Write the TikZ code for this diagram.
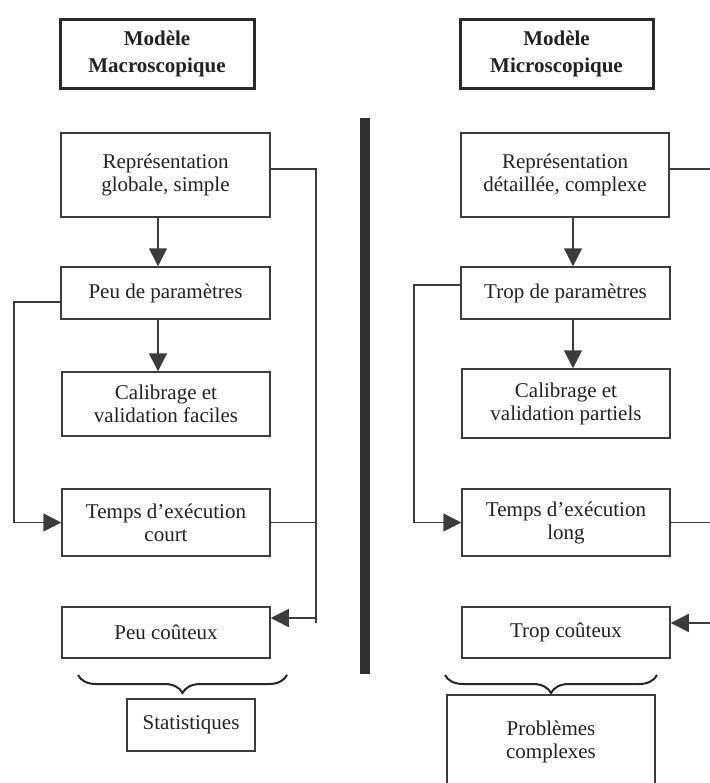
\documentclass[tikz,border=0pt]{standalone}
\usepackage{fontspec}
\setmainfont{Liberation Serif}
\usetikzlibrary{arrows.meta,decorations.pathreplacing}
\definecolor{ln}{HTML}{3C3C3C}
\definecolor{tx}{HTML}{222222}
\begin{document}
\begin{tikzpicture}[x=0.5pt,y=-0.5pt,
  box/.style={draw=ln, line width=0.75pt, inner sep=0pt, align=center, text=tx,
    font=\fontsize{10.5pt}{11.5pt}\selectfont},
  ttl/.style={draw=ln!70!black, line width=1.5pt, inner sep=0pt, align=center, text=tx,
    font=\bfseries\fontsize{10.5pt}{13.5pt}\selectfont},
  conn/.style={draw=ln, line width=0.75pt},
  arr/.style={conn, -{Triangle[length=9pt,width=9pt]}},
  brc/.style={draw=black!85, line width=1pt, decorate, decoration={brace, amplitude=9pt}}
]
\clip (0,0) rectangle (710,783);
\fill[white] (0,0) rectangle (710,783);

% ---------- left column ----------
\node[ttl, minimum width=97pt, minimum height=34.5pt] (tL) at (157,53.5) {Modèle\\Macroscopique};
\node[box, minimum width=104.5pt, minimum height=42pt] (L1) at (165.5,175) {Représentation\\globale, simple};
\node[box, minimum width=104.5pt, minimum height=26pt] (L2) at (165.5,293) {Peu de paramètres};
\node[box, minimum width=104pt, minimum height=32pt] (L3) at (166,404) {Calibrage et\\validation faciles};
\node[box, minimum width=104pt, minimum height=33.5pt] (L4) at (166,522.5) {Temps d’exécution\\court};
\node[box, minimum width=104pt, minimum height=25.5pt] (L5) at (166,632.5) {Peu coûteux};
\node[box, minimum width=64pt, minimum height=26pt] (S) at (191,725) {Statistiques};

\coordinate (ax) at (158,0);
\draw[arr] (L1.south -| ax) -- (L2.north -| ax);
\draw[arr] (L2.south -| ax) -- (L3.north -| ax);

\coordinate (lr) at (316,169);
\coordinate (lb) at (316,623);
\coordinate (la) at (316,618);
\draw[conn] (L1.east |- lr) -- (lr) -- (lb);
\draw[conn] (L4.east) -- (L4.east -| lr);
\draw[arr] (la) -- (L5.east |- la);

\coordinate (ll) at (14,302);
\draw[arr] (L2.west |- ll) -- (ll) |- (L4.west);

\draw[brc] (287,675) -- (78,675);

% ---------- separator ----------
\fill[ln!80!black] (360,118) rectangle (370,674);

% ---------- right column ----------
\node[ttl, minimum width=96.5pt, minimum height=34.5pt] (tR) at (556.5,53.5) {Modèle\\Microscopique};
\node[box, minimum width=104pt, minimum height=42pt] (R1) at (565,175) {Représentation\\détaillée, complexe};
\node[box, minimum width=104.5pt, minimum height=26pt] (R2) at (565.5,293) {Trop de paramètres};
\node[box, minimum width=104pt, minimum height=34.5pt] (R3) at (566,403.5) {Calibrage et\\validation partiels};
\node[box, minimum width=104pt, minimum height=33.5pt] (R4) at (566,522.5) {Temps d’exécution\\long};
\node[box, minimum width=104pt, minimum height=25.5pt] (R5) at (566,632.5) {Trop coûteux};
\node[box, minimum width=104pt, minimum height=47pt] (P) at (551,742) {Problèmes\\complexes};

\coordinate (bx) at (573,0);
\draw[arr] (R1.south -| bx) -- (R2.north -| bx);
\draw[arr] (R2.south -| bx) -- (R3.north -| bx);

\coordinate (re1) at (712,169);
\coordinate (re2) at (712,623);
\draw[conn] (R1.east |- re1) -- (re1);
\draw[conn] (R4.east) -- (R4.east -| re1);
\draw[arr] (re2) -- (R5.east |- re2);

\coordinate (rl) at (414,285);
\draw[arr] (R2.west |- rl) -- (rl) |- (R4.west);

\draw[brc] (657,675) -- (445,675);
\end{tikzpicture}
\end{document}
